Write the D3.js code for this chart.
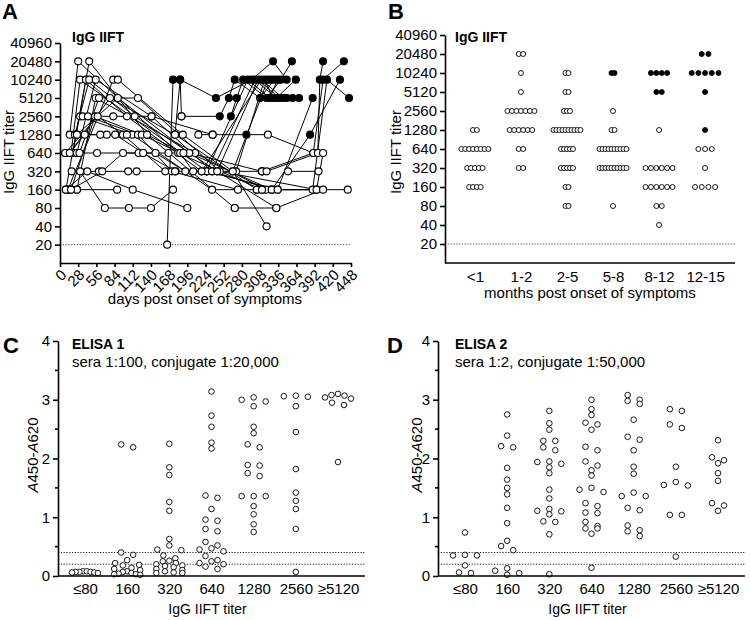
<!DOCTYPE html>
<html><head><meta charset="utf-8">
<script src="https://cdn.jsdelivr.net/npm/d3@7"></script>
<style>
body{margin:0;background:#fff;}
text{font-family:"Liberation Sans",Arial,sans-serif;fill:#000;}
.axis path,.axis line{stroke:#000;stroke-width:1.6;}
</style></head>
<body><svg id="c" width="750" height="620"></svg>
<script>
// ---------- DATA ----------
const titerTicks = [20,40,80,160,320,640,1280,2560,5120,10240,20480,40960];
const dayTicks = [0,28,56,84,112,140,168,196,224,252,280,308,336,364,392,420,448];
// Panel A: each patient = list of [day, titer, filled]
const patientSeries = [
 [[15,1280,0],[28,20480,0],[182,640,0],[311,160,0]],
 [[9,160,0],[45,20480,0],[134,1280,0],[269,80,0]],
 [[17,640,0],[31,10240,0],[226,320,0],[335,160,0]],
 [[20,640,0],[40,10240,0],[103,2560,0],[218,320,0],[311,320,0]],
 [[23,1280,0],[45,10240,0],[115,2560,0],[242,320,0],[333,80,0]],
 [[26,640,0],[55,10240,0],[141,2560,0],[234,320,0],[326,160,0]],
 [[12,160,0],[82,10240,0],[89,10240,0],[189,1280,0],[266,320,0],[318,40,0]],
 [[26,160,0],[55,5120,0],[208,640,0],[317,160,0]],
 [[30,640,0],[60,5120,0],[120,5120,0],[246,320,0],[395,160,0]],
 [[15,640,0],[77,5120,0],[177,1280,0],[303,160,0]],
 [[26,1280,0],[89,5120,0],[199,640,0],[326,160,0]],
 [[31,2560,0],[111,1280,0],[234,160,0],[443,160,0]],
 [[35,2560,0],[82,2560,0],[141,2560,0],[235,1280,0],[287,1280,1],[320,1280,0],[390,640,0]],
 [[43,2560,0],[120,1280,0],[172,320,0],[274,160,0]],
 [[17,160,0],[54,2560,0],[126,1280,0],[185,640,0],[205,320,0]],
 [[8,640,0],[58,2560,0],[97,1280,0],[162,320,0],[226,320,0]],
 [[8,640,0],[57,640,0],[121,640,0],[167,640,0],[199,640,0],[311,320,0]],
 [[26,1280,0],[72,1280,0],[103,1280,0],[134,1280,0],[190,640,0]],
 [[15,640,0],[38,1280,0],[62,1280,0],[85,1280,0],[128,640,0],[178,320,0]],
 [[18,320,0],[60,320,0],[105,320,0],[118,320,0],[177,320,0]],
 [[12,160,0],[26,160,0],[88,160,0]],
 [[9,160,0],[42,320,0],[112,160,0],[196,80,0]],
 [[17,160,0],[65,320,0],[97,640,0],[147,640,0],[193,320,0]],
 [[31,320,0],[69,80,0],[106,80,0],[140,80,0],[174,160,0]],
 [[165,20,0],[174,10240,1]],
 [[187,2560,0],[185,10240,1]],
 [[177,1280,0],[185,10240,1],[240,5120,1],[295,10240,1],[328,20480,1],[349,10240,1]],
 [[187,2560,0],[246,2560,1],[260,5120,1],[269,10240,1],[308,5120,1],[330,10240,1]],
 [[263,2560,1],[272,5120,1],[282,10240,1],[318,5120,1],[340,10240,1],[357,20480,1]],
 [[226,320,0],[289,10240,1],[323,5120,1],[335,10240,1]],
 [[234,320,0],[300,10240,1],[333,5120,1],[363,10240,1]],
 [[242,320,0],[305,10240,1],[338,5120,1],[358,5120,1]],
 [[218,320,0],[310,10240,1],[343,5120,1],[368,5120,1]],
 [[271,320,0],[315,10240,1],[328,5120,1],[349,5120,1]],
 [[266,320,0],[320,10240,1],[325,10240,1]],
 [[311,320,0],[390,640,0],[405,10240,1],[437,20480,1]],
 [[318,320,0],[397,640,0],[400,10240,1],[405,20480,1]],
 [[303,160,0],[389,160,0],[411,10240,1],[445,5120,1]],
 [[326,160,0],[385,1280,1],[431,10240,1]],
 [[335,160,0],[389,5120,1]],
 [[351,320,0],[398,320,0]],
 [[311,160,0],[395,160,0],[405,640,0]],
 [[213,1280,0],[235,1280,0]],
 [[269,80,0],[333,80,0],[405,160,0]]
];
// Panel B
const monthCats = ["<1","1-2","2-5","5-8","8-12","12-15"];
const rowTiters = [20480,10240,5120,2560,1280,640,320,160,80,40];
const openCounts = [
 [0,0,0,0,2,8,5,4,0,0],
 [2,1,1,7,6,2,2,0,0,0],
 [0,2,2,3,10,5,5,2,2,0],
 [0,0,0,1,2,10,10,0,1,0],
 [0,0,0,0,1,0,6,6,2,1],
 [0,0,0,0,0,3,1,4,0,0]
];
const filledCounts = [
 [0,0,0,0,0,0,0,0,0,0],
 [0,0,0,0,0,0,0,0,0,0],
 [0,0,0,0,0,0,0,0,0,0],
 [0,2,0,0,0,0,0,0,0,0],
 [0,4,2,0,0,0,0,0,0,0],
 [2,5,1,0,1,0,0,0,0,0]
];
// Panels C, D
const elisaCats = ["≤80","160","320","640","1280","2560","≥5120"];
const elisa1 = [
 [0.08,0.08,0.07,0.07,0.06,0.06,0.07,0.05],
 [2.24,2.19,0.40,0.36,0.27,0.22,0.19,0.18,0.14,0.12,0.10,0.08,0.07,0.05,0.04,0.03,0.03,0.02],
 [2.25,1.85,1.72,1.26,1.11,0.63,0.52,0.45,0.44,0.35,0.30,0.26,0.25,0.22,0.20,0.18,0.17,0.15,0.12,0.10,0.08,0.06,0.05,0.05],
 [3.14,2.73,2.54,2.27,2.17,1.37,1.33,1.14,0.96,0.94,0.80,0.76,0.58,0.52,0.47,0.45,0.42,0.34,0.27,0.25,0.22,0.20,0.16,0.12],
 [3.04,3.00,2.97,2.89,2.54,2.43,2.24,2.19,1.89,1.88,1.75,1.70,1.36,1.36,1.36,1.19,1.05,0.88,0.75],
 [3.06,3.05,3.07,2.89,2.45,1.82,1.42,1.28,1.14,0.80,0.07],
 [3.08,3.07,3.10,3.02,3.04,2.95,2.91,1.94]
];
const elisa2 = [
 [0.74,0.36,0.35,0.35,0.18,0.06,0.05],
 [2.75,2.39,2.21,2.19,1.84,1.64,1.50,1.39,1.16,0.90,0.60,0.51,0.44,0.13,0.09,0.05,0.02],
 [2.81,2.60,2.49,2.30,2.30,2.19,2.14,1.95,1.94,1.91,1.85,1.75,1.47,1.32,1.14,1.11,1.10,1.05,0.93,0.92,0.71,0.03],
 [3.00,2.84,2.74,2.61,2.58,2.49,2.20,2.14,1.95,1.88,1.80,1.71,1.50,1.47,1.43,1.24,1.19,1.08,1.07,0.92,0.85,0.81,0.81,0.72,0.14],
 [3.08,3.00,2.98,2.93,2.66,2.37,2.32,2.14,1.86,1.74,1.42,1.36,1.36,1.16,1.12,0.86,0.78,0.76,0.68],
 [2.84,2.81,2.58,2.52,1.86,1.60,1.55,1.54,1.04,1.04,0.33],
 [2.31,2.02,1.97,1.92,1.75,1.62,1.24,1.20,1.11]
];
const cutoffs = [0.2,0.4];

// ---------- DRAW ----------
const svg = d3.select("#c");
const FONT = '"Liberation Sans",Arial,sans-serif';

function styleAxis(g, fs){
  g.attr("class","axis");
  g.selectAll("text").style("font-size",fs+"px").style("font-family",FONT).attr("fill","#000");
  g.select(".domain").attr("stroke-width",1.6);
}
function label(x,y,t,opts={}){
  const el = svg.append("text").attr("x",x).attr("y",y).text(t)
    .style("font-size",(opts.size||15)+"px");
  if(opts.bold) el.style("font-weight","bold");
  if(opts.anchor) el.attr("text-anchor",opts.anchor);
  if(opts.rotate) el.attr("transform",`rotate(-90,${x},${y})`);
  return el;
}

// ===== Panel A =====
const xA = d3.scaleLinear().domain([0,448]).range([60,351]);
const yA = d3.scaleLog().base(2).domain([10,40960]).range([263,43]);
const gA = svg.append("g");
gA.append("line").attr("x1",60).attr("x2",351).attr("y1",yA(20)).attr("y2",yA(20))
  .attr("stroke","#444").attr("stroke-width",1).attr("stroke-dasharray","1.2,1.6");
const line = d3.line().x(d=>xA(d[0])).y(d=>yA(d[1]));
patientSeries.forEach(s=>{
  gA.append("path").attr("d",line(s)).attr("fill","none").attr("stroke","#000").attr("stroke-width",1);
});
patientSeries.forEach(s=>{
  gA.selectAll(null).data(s).enter().append("circle")
    .attr("cx",d=>xA(d[0])).attr("cy",d=>yA(d[1])).attr("r",3.5)
    .attr("fill",d=>d[2]?"#000":"#fff").attr("stroke","#000").attr("stroke-width",1.1);
});
const axYA = svg.append("g").attr("transform","translate(60,0)")
  .call(d3.axisLeft(yA).tickValues(titerTicks).tickFormat(d3.format("d")).tickSize(5).tickSizeOuter(0));
styleAxis(axYA,15);
const axXA = svg.append("g").attr("transform","translate(0,263)")
  .call(d3.axisBottom(xA).tickValues(dayTicks).tickSize(4).tickSizeOuter(0));
styleAxis(axXA,15);
axXA.selectAll("text").attr("text-anchor","end").attr("dy",null).attr("y",null)
  .attr("transform","translate(4,10) rotate(-45)").attr("dominant-baseline","middle");
label(2,19,"A",{size:22,bold:true});
label(72,42,"IgG IIFT",{size:14,bold:true});
label(14,152,"IgG IIFT titer",{size:15,anchor:"middle",rotate:true});
label(205,304,"days post onset of symptoms",{size:15,anchor:"middle"});

// ===== Panel B =====
const xB = d3.scalePoint().domain(monthCats).range([445,735]).padding(0.65);
const yB = d3.scaleLog().base(2).domain([10,40960]).range([263,35]);
const gB = svg.append("g");
gB.append("line").attr("x1",445).attr("x2",735).attr("y1",yB(20)).attr("y2",yB(20))
  .attr("stroke","#444").attr("stroke-width",1).attr("stroke-dasharray","1.2,1.6");
monthCats.forEach((cat,ci)=>{
  let maxN = 1;
  rowTiters.forEach((t,ri)=>{ maxN = Math.max(maxN, openCounts[ci][ri]+filledCounts[ci][ri]); });
  const sp = Math.min(6.7, 27/Math.max(1,maxN-1));
  rowTiters.forEach((t,ri)=>{
    const nF = filledCounts[ci][ri], nO = openCounts[ci][ri], n = nF+nO;
    const pts = d3.range(n).map(i=>({t, filled: i<nF, k:i}));
    gB.selectAll(null).data(pts).enter().append("circle")
      .attr("cx",d=>xB(cat)+(d.k-(n-1)/2)*sp).attr("cy",d=>yB(d.t)).attr("r",2.5)
      .attr("fill",d=>d.filled?"#000":"#fff").attr("stroke","#000").attr("stroke-width",0.9);
  });
});
const axYB = svg.append("g").attr("transform","translate(445,0)")
  .call(d3.axisLeft(yB).tickValues(titerTicks).tickFormat(d3.format("d")).tickSize(5).tickSizeOuter(0));
styleAxis(axYB,15);
const axXB = svg.append("g").attr("transform","translate(0,263)")
  .call(d3.axisBottom(xB).tickSize(0).tickSizeOuter(0).tickPadding(8));
styleAxis(axXB,15);
axXB.select(".domain").attr("d","M445,0H735");
label(388,19,"B",{size:22,bold:true});
label(455,42,"IgG IIFT",{size:14,bold:true});
label(401,152,"IgG IIFT titer",{size:15,anchor:"middle",rotate:true});
label(590,298,"months post onset of symptoms",{size:15,anchor:"middle"});

// ===== Panels C & D =====
function swarm(vals, y, maxSp, W, tol){
  const sorted = vals.slice().sort((a,b)=>b-a);
  const groups = []; let cur = null;
  sorted.forEach(v=>{
    const yy = y(v);
    if(cur && yy-cur.y0<=tol) cur.items.push(yy);
    else { cur = {y0:yy, items:[yy]}; groups.push(cur); }
  });
  const out = [];
  groups.forEach(g=>{
    const n = g.items.length;
    const sp = n>1 ? Math.min(maxSp, W/(n-1)) : 0;
    const slots = d3.range(n).map(i=>(i-(n-1)/2)*sp)
      .sort((a,b)=>Math.abs(a)-Math.abs(b) || a-b);
    g.items.forEach((yy,i)=>out.push({dx:slots[i], y:yy}));
  });
  return out;
}
function elisaPanel(x0,x1,data,letter,lx,title,sub,tx,ylx){
  const x = d3.scalePoint().domain(elisaCats).range([x0,x1]).padding(0.64);
  const y = d3.scaleLinear().domain([0,4]).range([576,341]);
  const g = svg.append("g");
  cutoffs.forEach(c=>{
    g.append("line").attr("x1",x0).attr("x2",x1).attr("y1",y(c)).attr("y2",y(c))
      .attr("stroke","#222").attr("stroke-width",1).attr("stroke-dasharray","1.2,1.6");
  });
  elisaCats.forEach((cat,ci)=>{
    const pts = swarm(data[ci], y, 12, 26, 5);
    g.selectAll(null).data(pts).enter().append("circle")
      .attr("cx",d=>x(cat)+d.dx).attr("cy",d=>d.y).attr("r",2.8)
      .attr("fill","#fff").attr("stroke","#000").attr("stroke-width",0.9);
  });
  const ay = svg.append("g").attr("transform",`translate(${x0},0)`)
    .call(d3.axisLeft(y).tickValues([0,1,2,3,4]).tickFormat(d3.format("d")).tickSize(5).tickSizeOuter(0));
  styleAxis(ay,15);
  ay.selectAll(null).data([0.5,1.5,2.5,3.5]).enter().append("line")
    .attr("x1",-3).attr("x2",0).attr("y1",d=>y(d)).attr("y2",d=>y(d)).attr("stroke","#000").attr("stroke-width",1.4);
  const ax = svg.append("g").attr("transform","translate(0,576)")
    .call(d3.axisBottom(x).tickSize(0).tickSizeOuter(0).tickPadding(7));
  styleAxis(ax,15);
  ax.select(".domain").attr("d",`M${x0},0H${x1}`);
  label(lx,353,letter,{size:22,bold:true});
  label(tx,349,title,{size:14,bold:true});
  label(tx,367,sub,{size:15});
  const yl = svg.append("text").attr("transform",`rotate(-90,${ylx},455)`).attr("x",ylx).attr("y",455)
    .attr("text-anchor","middle").style("font-size","15px");
  yl.append("tspan").style("font-style","italic").text("A");
  yl.append("tspan").text("450-");
  yl.append("tspan").style("font-style","italic").text("A");
  yl.append("tspan").text("620");
  label((x0+x1)/2-4,614,"IgG IIFT titer",{size:14,anchor:"middle"});
}
elisaPanel(58,365,elisa1,"C",3,"ELISA 1","sera 1:100, conjugate 1:20,000",72,38);
elisaPanel(438,745,elisa2,"D",387,"ELISA 2","sera 1:2, conjugate 1:50,000",455,422);
</script></body></html>
